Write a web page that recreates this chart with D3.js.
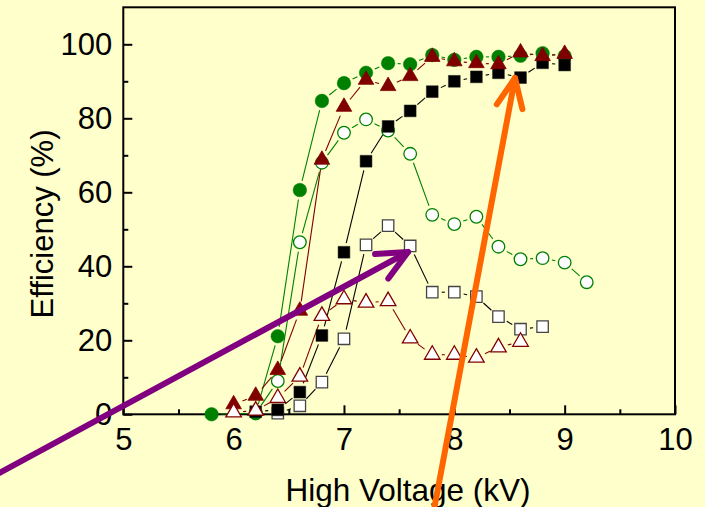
<!DOCTYPE html>
<html>
<head>
<meta charset="utf-8">
<script src="https://cdn.jsdelivr.net/npm/d3@7"></script>
<style>
  html, body { margin: 0; padding: 0; background: #FFFFCC; }
  svg { display: block; }
  text { font-family: "Liberation Sans", Arial, sans-serif; fill: #000; }
</style>
</head>
<body>
<svg id="chart" width="705" height="507"></svg>
<script>
// Collection efficiency versus applied high voltage, six runs.
const xTicks = [5, 6, 7, 8, 9, 10];
const xMinor = [5.5, 6.5, 7.5, 8.5, 9.5];
const yTicks = [0, 20, 40, 60, 80, 100];
const yMinor = [10, 30, 50, 70, 90];

// filled green circles
const gfX = [5.8, 6.2, 6.4, 6.6, 6.8, 7.0, 7.2, 7.4, 7.6, 7.8, 8.0, 8.2, 8.4, 8.6, 8.8, 9.0];
const gfY = [0, 0.3, 21.1, 60.6, 84.7, 89.5, 92.3, 94.9, 94.6, 97.1, 95.8, 96.6, 96.6, 96.9, 97.6, 96.8];
// open green circles
const goX = [6.2, 6.4, 6.6, 6.8, 7.0, 7.2, 7.4, 7.6, 7.8, 8.0, 8.2, 8.4, 8.6, 8.8, 9.0, 9.2];
const goY = [0.3, 9.0, 46.5, 68.0, 76.1, 79.7, 76.7, 70.4, 53.9, 51.4, 53.4, 45.3, 41.9, 42.2, 41.0, 35.7];
// filled black squares
const bfX = [6.2, 6.4, 6.6, 6.8, 7.0, 7.2, 7.4, 7.6, 7.8, 8.0, 8.2, 8.4, 8.6, 8.8, 9.0];
const bfY = [0.7, 1.2, 6.0, 21.3, 43.8, 68.4, 77.8, 82.0, 87.2, 90.0, 91.2, 92.3, 91.0, 95.0, 94.4];
// open black squares
const boX = [6.4, 6.6, 6.8, 7.0, 7.2, 7.4, 7.6, 7.8, 8.0, 8.2, 8.4, 8.6, 8.8];
const boY = [0.3, 2.3, 8.7, 20.4, 45.8, 51.0, 45.5, 33.0, 33.0, 31.8, 26.4, 23.0, 23.7];
// filled dark-red triangles
const rfX = [6.0, 6.2, 6.4, 6.6, 6.8, 7.0, 7.2, 7.4, 7.6, 7.8, 8.0, 8.2, 8.4, 8.6, 8.8, 9.0];
const rfY = [2.7, 5.0, 12.0, 28.0, 68.8, 83.1, 90.4, 88.7, 91.4, 96.6, 95.4, 94.9, 94.6, 97.8, 96.8, 97.4];
// open dark-red triangles
const roX = [6.0, 6.2, 6.4, 6.6, 6.8, 7.0, 7.2, 7.4, 7.6, 7.8, 8.0, 8.2, 8.4, 8.6];
const roY = [0.5, 1.0, 4.4, 10.2, 26.6, 31.1, 30.2, 30.6, 20.5, 16.1, 16.1, 15.3, 18.1, 19.6];

const GREEN = "#008000", DARKRED = "#800000", BLACK = "#000000";

const svg = d3.select("#chart");
svg.append("rect").attr("width", 705).attr("height", 507).attr("fill", "#FFFFCC");

const x = d3.scaleLinear().domain([5, 10]).range([123.3, 675]);
const y = d3.scaleLinear().domain([0, 110]).range([414.3, 7.3]);

// frame
svg.append("rect")
  .attr("x", x(5)).attr("y", y(110))
  .attr("width", x(10) - x(5)).attr("height", y(0) - y(110))
  .attr("fill", "none").attr("stroke", "#000").attr("stroke-width", 2);

// axes with inward ticks
const styleAxis = g => {
  g.select(".domain").remove();
  g.selectAll(".tick line").attr("stroke", "#000").attr("stroke-width", 2);
  g.selectAll(".tick text").style("font-size", "31px").style("font-family", '"Liberation Sans", Arial, sans-serif');
};

svg.append("g").attr("transform", `translate(0,${y(0)})`)
  .call(d3.axisBottom(x).tickValues(xTicks).tickSize(-9).tickPadding(14).tickFormat(d3.format("d")))
  .call(styleAxis);
svg.append("g").attr("transform", `translate(0,${y(0)})`)
  .call(d3.axisBottom(x).tickValues(xMinor).tickSize(-5).tickFormat(""))
  .call(styleAxis);
svg.append("g").attr("transform", `translate(${x(5)},0)`)
  .call(d3.axisLeft(y).tickValues(yTicks).tickSize(-9).tickPadding(11).tickFormat(d3.format("d")))
  .call(styleAxis);
svg.append("g").attr("transform", `translate(${x(5)},0)`)
  .call(d3.axisLeft(y).tickValues(yMinor).tickSize(-5).tickFormat(""))
  .call(styleAxis);

// axis titles
svg.append("text")
  .attr("x", 408).attr("y", 501)
  .attr("text-anchor", "middle")
  .style("font-size", "31.5px")
  .text("High Voltage (kV)");
svg.append("text")
  .attr("transform", "translate(53,224) rotate(-90)")
  .attr("text-anchor", "middle")
  .style("font-size", "31px")
  .text("Efficiency (%)");

// connecting lines that stop short of each marker
const GAP = 9.5;
function drawGappedLine(xs, ys, color) {
  const pts = xs.map((v, i) => [x(v), y(ys[i])]);
  const segs = [];
  for (let i = 0; i < pts.length - 1; i++) {
    const [x0, y0] = pts[i], [x1, y1] = pts[i + 1];
    const dx = x1 - x0, dy = y1 - y0, len = Math.hypot(dx, dy);
    if (len <= 2 * GAP + 0.5) continue;
    const ux = dx / len, uy = dy / len;
    segs.push([[x0 + ux * GAP, y0 + uy * GAP], [x1 - ux * GAP, y1 - uy * GAP]]);
  }
  svg.append("g").selectAll("line").data(segs).join("line")
    .attr("x1", d => d[0][0]).attr("y1", d => d[0][1])
    .attr("x2", d => d[1][0]).attr("y2", d => d[1][1])
    .attr("stroke", color).attr("stroke-width", 1.1);
}

function drawMarkers(xs, ys, type, size, fill, stroke, sw) {
  const sym = d3.symbol().type(type).size(size);
  svg.append("g").selectAll("path").data(xs.map((v, i) => [v, ys[i]])).join("path")
    .attr("transform", d => `translate(${x(d[0])},${y(d[1])})`)
    .attr("d", sym)
    .attr("fill", fill).attr("stroke", stroke).attr("stroke-width", sw);
}

const series = [
  { xs: goX, ys: goY, color: GREEN,   type: d3.symbolCircle,   size: 125, fill: "#fff",  stroke: GREEN,   sw: 1.3 },
  { xs: gfX, ys: gfY, color: GREEN,   type: d3.symbolCircle,   size: 145, fill: GREEN,   stroke: GREEN,   sw: 0.5 },
  { xs: boX, ys: boY, color: BLACK,   type: d3.symbolSquare,   size: 130, fill: "#fff",  stroke: "#444", sw: 1.3 },
  { xs: bfX, ys: bfY, color: BLACK,   type: d3.symbolSquare,   size: 140, fill: BLACK,   stroke: "#222", sw: 0.5 },
  { xs: rfX, ys: rfY, color: DARKRED, type: d3.symbolTriangle, size: 105, fill: DARKRED, stroke: DARKRED, sw: 0.8 },
  { xs: roX, ys: roY, color: DARKRED, type: d3.symbolTriangle, size: 105, fill: "#fff",  stroke: DARKRED, sw: 1.3 }
];
series.forEach(s => drawGappedLine(s.xs, s.ys, s.color));
series.forEach(s => drawMarkers(s.xs, s.ys, s.type, s.size, s.fill, s.stroke, s.sw));

// annotation arrows
function arrow(x0, y0, x1, y1, color, width, headLen, headAngle) {
  const ang = Math.atan2(y0 - y1, x0 - x1);
  const a1 = ang + headAngle, a2 = ang - headAngle;
  const g = svg.append("g").attr("fill", "none").attr("stroke", color)
    .attr("stroke-width", width).attr("stroke-linecap", "round").attr("stroke-linejoin", "round");
  g.append("line").attr("x1", x0).attr("y1", y0).attr("x2", x1).attr("y2", y1);
  g.append("polyline").attr("points", [
    [x1 + headLen * Math.cos(a1), y1 + headLen * Math.sin(a1)],
    [x1, y1],
    [x1 + headLen * Math.cos(a2), y1 + headLen * Math.sin(a2)]
  ].map(p => p.join(",")).join(" "));
}
arrow(-10, 478, 408, 252, "#800080", 6, 33, 25 * Math.PI / 180);
arrow(433, 515, 515, 78, "#FF6600", 6, 32, 24 * Math.PI / 180);
</script>
</body>
</html>
